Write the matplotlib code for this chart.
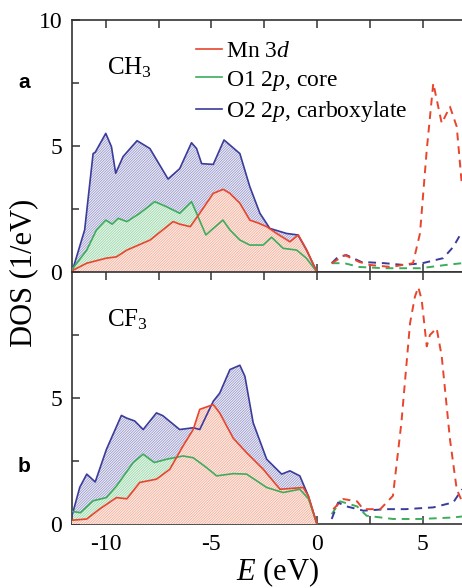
import matplotlib
matplotlib.use("Agg")
import matplotlib.pyplot as plt
from matplotlib.ticker import MultipleLocator

plt.rcParams['font.family'] = ['Liberation Serif', 'DejaVu Serif']
plt.rcParams['mathtext.fontset'] = 'custom'
plt.rcParams['mathtext.rm'] = 'Liberation Serif'
plt.rcParams['mathtext.it'] = 'Liberation Serif:italic'
plt.rcParams['axes.unicode_minus'] = False
plt.rcParams['hatch.linewidth'] = 0.45

# ---- panel a: CH3, occupied (solid) ----
a_mn_e = [-11.6, -10.9, -9.97, -9.5, -9.0, -7.9, -6.81, -6.5, -6.0, -5.55, -4.91, -4.44,
          -4.12, -3.65, -3.18, -2.8, -2.38, -1.91, -1.28, -0.88, -0.5, 0.0]
a_mn_d = [0.05, 0.35, 0.55, 0.6, 0.87, 1.27, 2.0, 1.9, 1.8, 2.33, 3.12, 3.28,
          3.12, 2.73, 2.06, 1.95, 1.8, 1.53, 1.2, 1.47, 0.9, 0.0]
a_o1_e = [-11.6, -10.9, -10.44, -10.0, -9.7, -9.41, -9.0, -8.39, -7.68, -7.12, -6.5, -5.94,
          -5.7, -5.26, -4.91, -4.45, -4.12, -3.65, -3.18, -2.55, -2.15, -1.6, -0.96, -0.5, 0.0]
a_o1_d = [0.1, 0.87, 1.67, 2.06, 1.9, 2.13, 2.0, 2.33, 2.79, 2.59, 2.33, 2.79,
          2.33, 1.47, 1.73, 2.06, 1.67, 1.27, 1.07, 1.07, 1.38, 0.94, 0.87, 0.55, 0.0]
a_o2_e = [-11.6, -11.0, -10.6, -10.5, -10.0, -9.73, -9.53, -9.18, -8.52, -7.91, -7.05, -6.5,
          -5.94, -5.7, -5.46, -4.91, -4.4, -3.65, -3.18, -2.7, -2.23, -1.44, -0.9, -0.49, 0.0]
a_o2_d = [0.0, 1.67, 4.7, 4.75, 5.5, 4.97, 3.92, 4.58, 5.21, 4.9, 3.69, 4.1,
          5.13, 4.9, 4.3, 4.27, 5.24, 4.7, 3.39, 2.33, 1.73, 1.53, 1.47, 0.87, 0.0]

# ---- panel a: unoccupied (dashed) ----
a_mn_ue = [0.7, 1.33, 2.0, 2.51, 3.5, 4.55, 4.88, 5.2, 5.51, 5.91, 6.3, 6.62, 6.87]
a_mn_ud = [0.35, 0.67, 0.4, 0.28, 0.2, 0.35, 1.53, 4.84, 7.49, 5.9, 6.56, 5.77, 3.39]
a_o1_ue = [0.7, 1.3, 2.0, 3.2, 4.9, 6.1, 6.87]
a_o1_ud = [0.35, 0.35, 0.2, 0.15, 0.15, 0.28, 0.35]
a_o2_ue = [0.7, 1.0, 1.4, 2.1, 3.2, 4.1, 5.0, 5.98, 6.46, 6.87]
a_o2_ud = [0.35, 0.6, 0.67, 0.4, 0.35, 0.28, 0.35, 0.55, 1.0, 1.6]

# ---- panel b: CF3, occupied (solid) ----
b_mn_e = [-11.6, -10.9, -10.3, -9.49, -9.0, -8.39, -7.6, -6.97, -6.34, -5.86, -5.55, -4.91,
          -4.6, -3.96, -3.33, -2.54, -1.75, -1.4, -0.65, -0.4, 0.0]
b_mn_d = [0.15, 0.2, 0.59, 1.05, 1.0, 1.65, 1.78, 2.17, 3.1, 3.75, 4.55, 4.74,
          4.4, 3.4, 2.83, 2.17, 1.38, 1.4, 1.45, 1.1, 0.0]
b_o1_e = [-11.6, -11.2, -10.6, -9.97, -9.49, -8.7, -8.23, -7.7, -7.12, -6.34, -5.86, -5.23,
          -4.75, -3.96, -3.33, -2.38, -1.6, -0.81, -0.4, 0.0]
b_o1_d = [0.5, 0.45, 0.92, 1.05, 1.51, 2.44, 2.77, 2.44, 2.57, 2.7, 2.63, 2.24,
          1.91, 2.0, 1.98, 1.45, 1.25, 1.38, 1.0, 0.0]
b_o2_e = [-11.6, -11.23, -10.9, -10.5, -9.97, -9.26, -9.0, -8.63, -8.23, -7.6, -7.3, -6.5,
          -5.86, -5.55, -4.91, -4.6, -4.12, -3.65, -3.41, -3.02, -2.38, -1.67, -1.28, -0.81,
          -0.41, 0.0]
b_o2_d = [0.33, 1.46, 1.98, 1.67, 2.96, 4.31, 4.2, 4.09, 3.75, 4.41, 4.3, 3.75,
          3.82, 3.75, 4.87, 5.2, 6.13, 6.3, 5.86, 4.02, 2.57, 1.98, 2.11, 1.91,
          1.12, 0.0]

# ---- panel b: unoccupied (dashed) ----
b_mn_ue = [0.77, 1.25, 1.9, 2.19, 3.0, 3.6, 4.0, 4.41, 4.64, 4.8, 4.96, 5.2, 5.35, 5.67,
           5.91, 6.3, 6.62, 6.87]
b_mn_ud = [0.59, 0.99, 0.9, 0.59, 0.59, 1.12, 4.02, 7.97, 9.02, 9.4, 8.9, 7.05, 7.5, 7.77,
           6.65, 3.36, 1.38, 0.9]
b_o1_ue = [0.7, 1.1, 1.9, 2.35, 3.6, 4.9, 6.46, 6.87]
b_o1_ud = [0.39, 0.9, 0.7, 0.33, 0.2, 0.2, 0.26, 0.3]
b_o2_ue = [0.7, 1.0, 1.4, 2.2, 3.3, 4.2, 5.51, 6.46, 6.87]
b_o2_ud = [0.2, 0.85, 0.7, 0.53, 0.59, 0.59, 0.66, 0.86, 1.38]

labels = ['Mn $\\mathit{3d}$', 'O1 $\\mathit{2p}$, core', 'O2 $\\mathit{2p}$, carboxylate']
line_colors = ['#e8452c', '#3dac5c', '#3b3b9c']
face_colors = ['#fdece6', '#e8f6eb', '#ececf6']
hatch_colors = ['#f0a48e', '#8ad19c', '#8a8ac4']

fig = plt.figure(figsize=(4.62, 5.88), dpi=100)
ax_a = fig.add_axes([0.1558, 0.5374, 0.8442, 0.4286])
ax_b = fig.add_axes([0.1558, 0.1088, 0.8442, 0.4286])


def draw_panel(ax, occ, unocc):
    # fill order: O2 (back), O1, Mn (front)
    for i in [2, 1, 0]:
        e, d = occ[i]
        ax.fill_between(e, 0, d, facecolor=face_colors[i], edgecolor=hatch_colors[i],
                        hatch='/' * 13, linewidth=0, zorder=1 + (2 - i))
    for i in [2, 1, 0]:
        e, d = occ[i]
        ax.plot(e, d, color=line_colors[i], lw=1.2, zorder=5, label=labels[i])
    for i in [1, 2, 0]:
        e, d = unocc[i]
        ax.plot(e, d, color=line_colors[i], lw=1.4, ls=(0, (4, 3)), zorder=5)

    ax.set_xlim(-11.6, 6.87)
    ax.set_ylim(0, 10)
    ax.xaxis.set_major_locator(MultipleLocator(5))
    ax.xaxis.set_minor_locator(MultipleLocator(2.5))
    ax.yaxis.set_major_locator(MultipleLocator(5))
    ax.yaxis.set_minor_locator(MultipleLocator(2.5))
    ax.tick_params(which='both', direction='in', top=True, right=False,
                   width=1.1, color='#333333', labelsize=17)
    ax.tick_params(which='major', length=6)
    ax.tick_params(axis='x', which='minor', length=6)
    ax.tick_params(axis='y', which='minor', length=5)
    ax.tick_params(axis='x', pad=7)
    ax.tick_params(axis='y', pad=7)
    ax.spines['right'].set_visible(False)
    for s in ['left', 'top', 'bottom']:
        ax.spines[s].set_linewidth(1.2)
        ax.spines[s].set_color('#333333')


draw_panel(ax_a,
           [(a_mn_e, a_mn_d), (a_o1_e, a_o1_d), (a_o2_e, a_o2_d)],
           [(a_mn_ue, a_mn_ud), (a_o1_ue, a_o1_ud), (a_o2_ue, a_o2_ud)])
draw_panel(ax_b,
           [(b_mn_e, b_mn_d), (b_o1_e, b_o1_d), (b_o2_e, b_o2_d)],
           [(b_mn_ue, b_mn_ud), (b_o1_ue, b_o1_ud), (b_o2_ue, b_o2_ud)])

ax_a.set_xticklabels([])
ax_b.set_yticks([0, 5, 10])
ax_b.set_yticklabels(['0', '5', ''])

handles, labs = ax_a.get_legend_handles_labels()
order = [2, 1, 0]
ax_a.legend([handles[k] for k in order], [labs[k] for k in order],
            loc='upper left', bbox_to_anchor=(0.295, 0.955), frameon=False,
            fontsize=17, handlelength=1.1, handletextpad=0.15,
            labelspacing=0.27, borderaxespad=0)

ax_a.text(-9.95, 7.85, 'CH$_{3}$', fontsize=18, ha='left', va='baseline')
ax_b.text(-9.95, 7.85, 'CF$_{3}$', fontsize=18, ha='left', va='baseline')

fig.text(24 / 462, 1 - 88 / 588, 'a', family='Liberation Sans', weight='bold',
         fontsize=15, ha='center', va='baseline')
fig.text(24 / 462, 1 - 472 / 588, 'b', family='Liberation Sans', weight='bold',
         fontsize=15, ha='center', va='baseline')

fig.text(24 / 462, 1 - 273 / 588, 'DOS (1/eV)', rotation=90, fontsize=22,
         ha='center', va='center')
fig.text(278 / 462, 1 - 572 / 588, '$E$ (eV)', fontsize=22, ha='center', va='center')

fig.savefig('out.png', dpi=100)
